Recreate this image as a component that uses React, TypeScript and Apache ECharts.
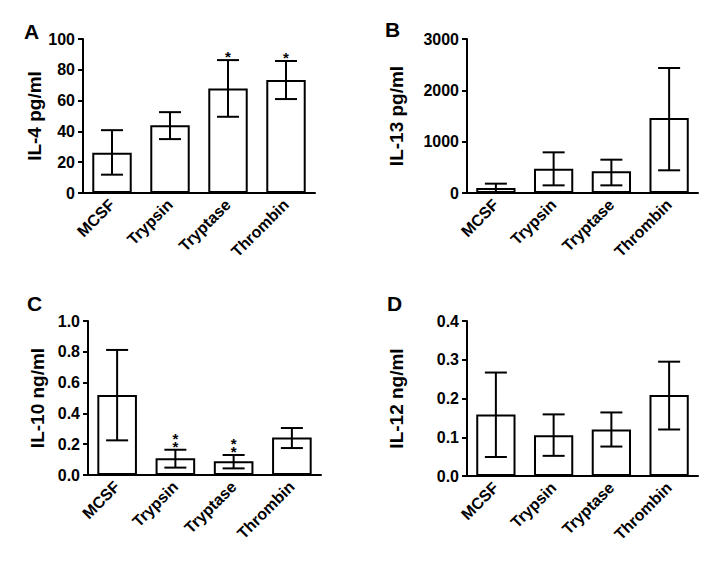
import React, { useEffect, useRef } from 'react';
import * as echarts from 'echarts';

const categories = ['MCSF', 'Trypsin', 'Tryptase', 'Thrombin'];

const il4Mean = [26.2, 44, 67.9, 73.3];
const il4Low = [11.9, 35, 49.5, 61];
const il4High = [40.8, 52.5, 86.3, 85.7];
const il4Stars = ['', '', '*', '*'];

const il13Mean = [95, 474, 422, 1461];
const il13Low = [13, 149, 149, 442];
const il13High = [182, 792, 649, 2435];
const il13Stars = ['', '', '', ''];

const il10Mean = [0.52, 0.108, 0.089, 0.244];
const il10Low = [0.225, 0.048, 0.043, 0.175];
const il10High = [0.812, 0.164, 0.13, 0.305];
const il10Stars = ['', '**', '**', ''];

const il12Mean = [0.159, 0.105, 0.12, 0.209];
const il12Low = [0.049, 0.052, 0.076, 0.12];
const il12High = [0.267, 0.159, 0.164, 0.295];
const il12Stars = ['', '', '', ''];

const FONT = '"Liberation Sans", Arial, sans-serif';

const panels = [
  { letter: 'A', name: 'IL-4 pg/ml', mean: il4Mean, low: il4Low, high: il4High, stars: il4Stars, max: 100, interval: 20, dec: 0,
    grid: { left: 83, top: 39, width: 232, height: 154 }, nameGap: 36, lx: 24, ly: 21 },
  { letter: 'B', name: 'IL-13 pg/ml', mean: il13Mean, low: il13Low, high: il13High, stars: il13Stars, max: 3000, interval: 1000, dec: 0,
    grid: { left: 467, top: 39, width: 231, height: 154 }, nameGap: 61, lx: 385, ly: 19 },
  { letter: 'C', name: 'IL-10 ng/ml', mean: il10Mean, low: il10Low, high: il10High, stars: il10Stars, max: 1.0, interval: 0.2, dec: 1,
    grid: { left: 88, top: 321, width: 233, height: 154 }, nameGap: 41, lx: 27, ly: 293 },
  { letter: 'D', name: 'IL-12 ng/ml', mean: il12Mean, low: il12Low, high: il12High, stars: il12Stars, max: 0.4, interval: 0.1, dec: 1,
    grid: { left: 467, top: 321, width: 231, height: 155 }, nameGap: 61, lx: 387, ly: 293 },
];

function buildOption() {
  const grid: any[] = [];
  const xAxis: any[] = [];
  const yAxis: any[] = [];
  const series: any[] = [];
  const graphic: any[] = [];
  panels.forEach((p, i) => {
    grid.push({ ...p.grid, containLabel: false });
    xAxis.push({
      type: 'category', gridIndex: i, data: categories,
      axisLine: { lineStyle: { color: '#000', width: 2 } },
      axisTick: { alignWithLabel: true, length: 5, lineStyle: { color: '#000', width: 2 } },
      axisLabel: { rotate: 45, margin: 9, color: '#000', fontWeight: 'bold', fontSize: 16, fontFamily: FONT },
      splitLine: { show: false },
    });
    yAxis.push({
      type: 'value', gridIndex: i, min: 0, max: p.max, interval: p.interval,
      name: p.name, nameLocation: 'middle', nameGap: p.nameGap,
      nameTextStyle: { color: '#000', fontWeight: 'bold', fontSize: 19, fontFamily: FONT },
      axisLine: { show: true, lineStyle: { color: '#000', width: 2 } },
      axisTick: { show: true, length: 5, lineStyle: { color: '#000', width: 2 } },
      axisLabel: { margin: 8, color: '#000', fontWeight: 'bold', fontSize: 16, fontFamily: FONT,
        formatter: (v: number) => v.toFixed(p.dec) },
      splitLine: { show: false },
    });
    series.push({
      type: 'bar', xAxisIndex: i, yAxisIndex: i, data: p.mean, barWidth: '68%',
      itemStyle: { color: '#fff', borderColor: '#000', borderWidth: 2 },
      z: 2,
    });
    series.push({
      type: 'custom', xAxisIndex: i, yAxisIndex: i, z: 3,
      data: categories.map((_, j) => [j, p.low[j], p.high[j]]),
      renderItem: (params: any, api: any) => {
        const x = api.value(0);
        const lo = api.coord([x, api.value(1)]);
        const hi = api.coord([x, api.value(2)]);
        const cx = lo[0];
        const hw = 11;
        const style = { stroke: '#000', lineWidth: 2 };
        const children: any[] = [
          { type: 'line', shape: { x1: cx, y1: hi[1], x2: cx, y2: lo[1] }, style },
          { type: 'line', shape: { x1: cx - hw, y1: hi[1], x2: cx + hw, y2: hi[1] }, style },
          { type: 'line', shape: { x1: cx - hw, y1: lo[1], x2: cx + hw, y2: lo[1] }, style },
        ];
        const s = p.stars[params.dataIndex] || '';
        for (let k = 0; k < s.length; k++) {
          children.push({
            type: 'text',
            style: {
              text: '*', x: cx, y: hi[1] - 3.5 - k * 7.5,
              align: 'center', verticalAlign: 'middle',
              fontSize: 15, fontWeight: 'bold', fontFamily: FONT, fill: '#000',
            },
          });
        }
        return { type: 'group', children };
      },
    });
    graphic.push({
      type: 'text', left: p.lx, top: p.ly,
      style: { text: p.letter, fontSize: 21, fontWeight: 'bold', fontFamily: FONT, fill: '#000' },
    });
  });
  return { animation: false, backgroundColor: '#fff', grid, xAxis, yAxis, series, graphic };
}

export default function App() {
  const ref = useRef<HTMLDivElement>(null);
  useEffect(() => {
    if (!ref.current) return;
    const chart = echarts.init(ref.current, undefined, { renderer: 'svg' });
    chart.setOption(buildOption() as any);
    return () => chart.dispose();
  }, []);
  return (
    <div
      ref={ref}
      style={{ position: 'absolute', left: 0, top: 0, width: 718, height: 572, background: '#fff' }}
    />
  );
}
